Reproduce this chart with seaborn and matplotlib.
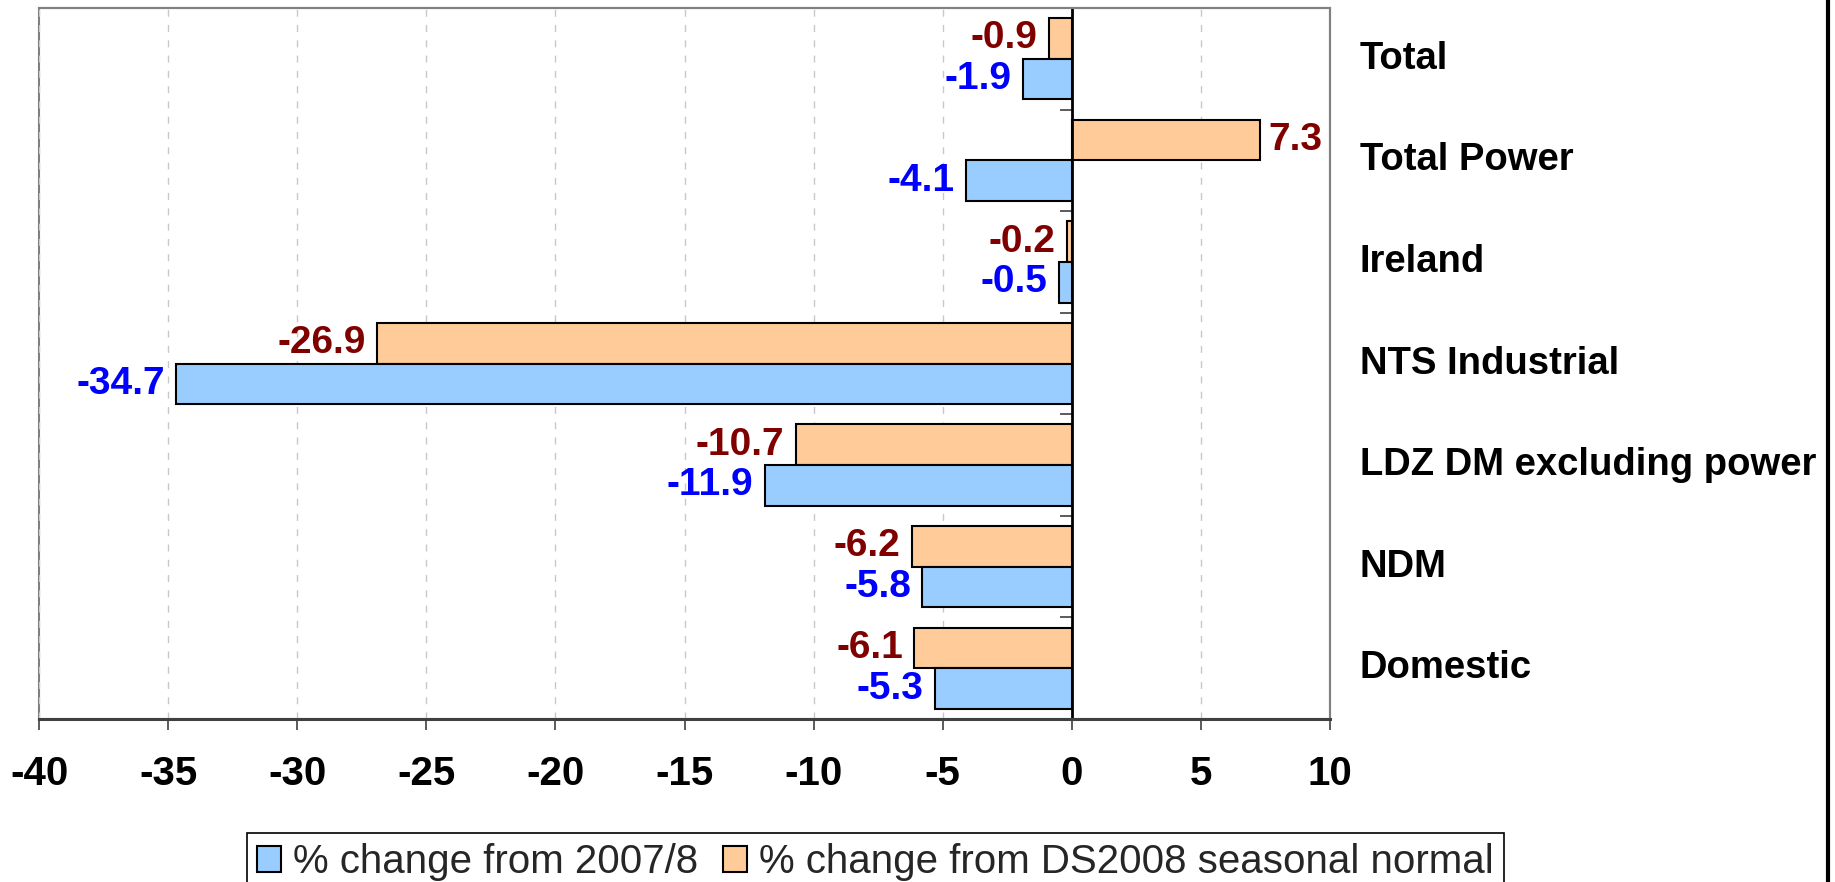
import numpy as np
import pandas as pd
import matplotlib
matplotlib.use("Agg")
import matplotlib.pyplot as plt
from matplotlib.patches import Patch, Rectangle
from matplotlib.lines import Line2D
import matplotlib.transforms as mtransforms
import seaborn as sns

# Data #
categories = ['Total', 'Total Power', 'Ireland', 'NTS Industrial',
              'LDZ DM excluding power', 'NDM', 'Domestic']
change_2007 = [-1.9, -4.1, -0.5, -34.7, -11.9, -5.8, -5.3]
change_ds2008 = [-0.9, 7.3, -0.2, -26.9, -10.7, -6.2, -6.1]
series_names = ['% change from 2007/8', '% change from DS2008 seasonal normal']
x_ticks = [-40, -35, -30, -25, -20, -15, -10, -5, 0, 5, 10]

blue = '#99CCFF'
orange = '#FFCC99'
label_colors = {series_names[0]: '#0000FF', series_names[1]: '#800000'}

df = pd.DataFrame({
    'category': categories * 2,
    'value': change_2007 + change_ds2008,
    'series': [series_names[0]] * len(categories) + [series_names[1]] * len(categories),
})

sns.set_theme(style='white')
plt.rcParams['font.family'] = ['Liberation Sans', 'DejaVu Sans']

fig = plt.figure(figsize=(18.35, 8.82), dpi=100)
ax = fig.add_axes([39 / 1835, 1 - 719 / 882, (1330 - 39) / 1835, (719 - 8) / 882])

# orange first so it sits on top inside each group
sns.barplot(data=df, x='value', y='category', hue='series', orient='h',
            order=categories, hue_order=[series_names[1], series_names[0]],
            palette={series_names[0]: blue, series_names[1]: orange}, saturation=1,
            edgecolor='black', linewidth=1.5, width=0.8, legend=False, ax=ax)

# Value labels
for container, name in zip(ax.containers, [series_names[1], series_names[0]]):
    vals = df.loc[df.series == name, 'value'].values
    for bar, v in zip(container, vals):
        y = bar.get_y() + bar.get_height() / 2
        if v < 0:
            ax.annotate('%.1f' % v, (v, y), xytext=(-8, 0), textcoords='offset points',
                        ha='right', va='center', fontsize=28, fontweight='bold',
                        color=label_colors[name])
        else:
            ax.annotate('%.1f' % v, (v, y), xytext=(6, 0), textcoords='offset points',
                        ha='left', va='center', fontsize=28, fontweight='bold',
                        color=label_colors[name])

ax.set_xlim(-40, 10)
ax.set_ylim(len(categories) - 0.5, -0.5)
ax.set_xticks(x_ticks)
ax.set_xticklabels([str(t) for t in x_ticks], fontsize=29, fontweight='bold')
ax.set_xlabel('')
ax.set_ylabel('')

# y axis sits on the zero line, ticks mark the group boundaries
ax.spines['left'].set_position(('data', 0))
ax.spines['left'].set_color('black')
ax.spines['left'].set_linewidth(2)
ax.set_yticks([i + 0.5 for i in range(len(categories) - 1)])
ax.set_yticklabels([])
ax.tick_params(axis='y', direction='out', length=9, width=1.2, color='#404040', left=True)
ax.tick_params(axis='x', direction='out', length=8, width=1.2, color='#404040',
               bottom=True, pad=18, labelcolor='black')

for s in ['top', 'right']:
    ax.spines[s].set_color('#808080')
    ax.spines[s].set_linewidth(1.5)
ax.spines['bottom'].set_color('#404040')
ax.spines['bottom'].set_linewidth(2.2)
ax.add_patch(Rectangle((0, 0), 1, 1, transform=ax.transAxes, fill=False,
                       edgecolor='#808080', linewidth=1.5, clip_on=False, zorder=0))

ax.xaxis.grid(True, color='#c8c8c8', linestyle=(0, (5, 6)), linewidth=1)
ax.set_axisbelow(True)

# Category labels to the right of the plot
trans = mtransforms.blended_transform_factory(ax.transAxes, ax.transData)
for i, cat in enumerate(categories):
    ax.text(1.023, i, cat, transform=trans, ha='left', va='center',
            fontsize=27.5, fontweight='bold', color='black')

# Legend
handles = [Patch(facecolor=blue, edgecolor='black', linewidth=1.5),
           Patch(facecolor=orange, edgecolor='black', linewidth=1.5)]
leg = fig.legend(handles, series_names, loc='upper center', bbox_to_anchor=(0.477, 1 - 833 / 882),
                 ncol=2, fontsize=29, frameon=True, fancybox=False, framealpha=1,
                 edgecolor='black', handlelength=0.6, handleheight=0.6,
                 handletextpad=0.3, columnspacing=0.6, borderpad=0.25, borderaxespad=0)
leg.get_frame().set_linewidth(1.2)

# right border of the picture
fig.add_artist(Line2D([1828 / 1835, 1828 / 1835], [0, 1], transform=fig.transFigure,
                      color='black', linewidth=3))

fig.savefig('out.png', dpi=100)
